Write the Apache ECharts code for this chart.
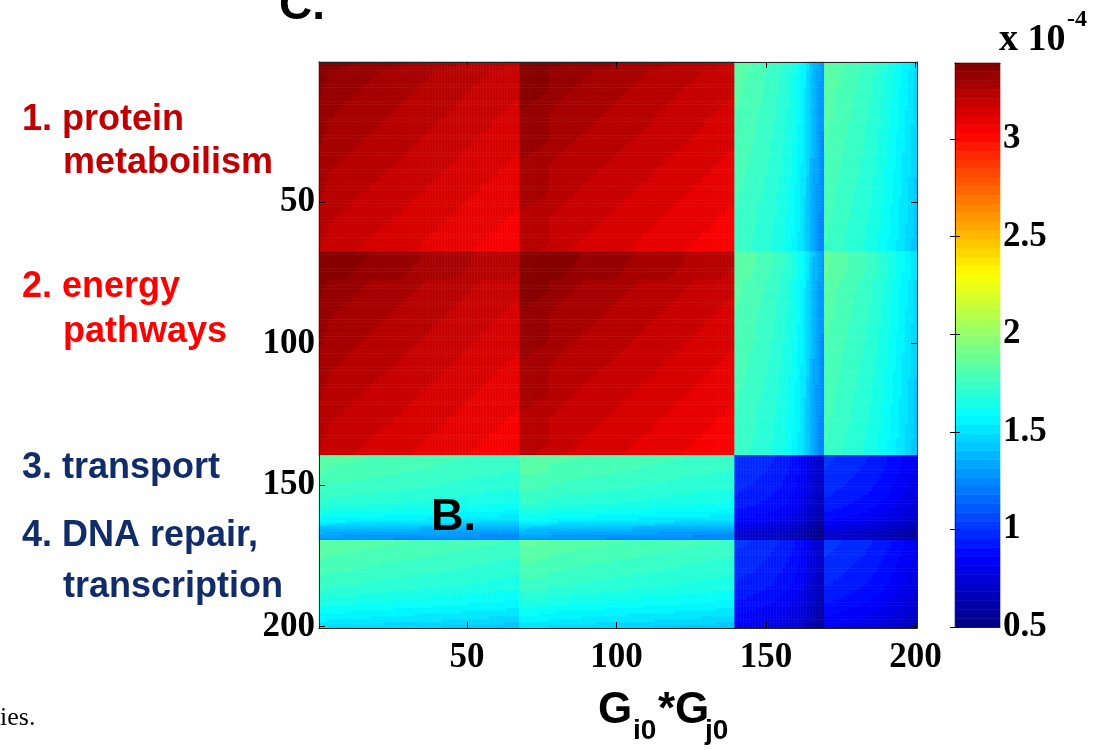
<!DOCTYPE html>
<html>
<head>
<meta charset="utf-8">
<title>G_i0*G_j0</title>
<script src="https://cdn.jsdelivr.net/npm/echarts@6/dist/echarts.min.js"></script>
<style>
  html, body { margin: 0; padding: 0; background: #fff; }
  #main { width: 1112px; height: 750px; }
</style>
</head>
<body>
<div id="main"></div>
<script>
'use strict';

/*
 * G_i0, one value per gene, grouped by function.
 * The plotted cell (i, j) is G_i0 * G_j0 (in units of 1e-4).
 */
const proteinG0 = [
    1.840, 1.837, 1.834,
    1.828, 1.827, 1.825, 1.824, 1.823, 1.821, 1.820, 1.819, 1.817, 1.816,
    1.815, 1.813, 1.812, 1.811, 1.809, 1.808, 1.807, 1.805, 1.804, 1.803,
    1.801, 1.800, 1.798, 1.797, 1.796, 1.794, 1.793, 1.792, 1.790, 1.789,
    1.788, 1.786, 1.785, 1.784, 1.782, 1.781, 1.780, 1.778, 1.777, 1.776,
    1.774, 1.773, 1.772, 1.770, 1.769, 1.767, 1.766, 1.765, 1.763, 1.762,
    1.761, 1.759, 1.758, 1.757, 1.755, 1.754, 1.753, 1.751, 1.750, 1.749,
    1.747, 1.746, 1.745, 1.743
];
const energyG0 = [
    1.848, 1.847, 1.846, 1.845, 1.844, 1.843, 1.842, 1.841, 1.840, 1.838,
    1.824, 1.823, 1.821, 1.820, 1.819, 1.817, 1.816, 1.815, 1.813, 1.812,
    1.811, 1.809, 1.808, 1.807, 1.805, 1.804, 1.802, 1.801, 1.800, 1.798,
    1.797, 1.796, 1.794, 1.793, 1.792, 1.790, 1.789, 1.788, 1.786, 1.785,
    1.784, 1.782, 1.781, 1.780, 1.778, 1.777, 1.775, 1.774, 1.773, 1.771,
    1.770, 1.769, 1.767, 1.766, 1.765, 1.763, 1.762, 1.761, 1.759, 1.758,
    1.757, 1.755, 1.754, 1.753, 1.751, 1.750, 1.748, 1.747, 1.746, 1.744,
    1.743, 1.742
];
const transportG0 = [
    1.000, 0.998, 0.995, 0.992, 0.989, 0.986, 0.982, 0.978, 0.974, 0.970,
    0.966, 0.962, 0.957, 0.952, 0.946, 0.940, 0.933, 0.925, 0.916, 0.905,
    0.892, 0.878, 0.862, 0.845, 0.815, 0.785, 0.760, 0.740, 0.720, 0.705
];
const dnaG0 = [
    1.010, 1.006, 1.002, 0.998, 0.994, 0.990, 0.986, 0.982, 0.978, 0.974,
    0.970, 0.966, 0.962, 0.958, 0.953, 0.948, 0.942, 0.936, 0.929, 0.922,
    0.914, 0.905, 0.897, 0.889, 0.880, 0.870, 0.860, 0.850, 0.840, 0.828,
    0.815
];

const axisTicks = [50, 100, 150, 200];
const colorbarMin = 0.5;
const colorbarMax = 3.39;
const colorbarStep = 0.5;
const colorLevels = 64;

const g0 = [].concat(proteinG0, energyG0, transportG0, dnaG0);
const genes = g0.map((_, i) => String(i + 1));

const cells = [];
g0.forEach((gi, i) => {
    g0.forEach((gj, j) => {
        cells.push([j, i, gi * gj]);
    });
});

// MATLAB-style jet colormap, quantised into colorLevels steps
const jet = (t) => {
    const c = (x) => Math.round(255 * Math.max(0, Math.min(1, x)));
    return 'rgb(' + c(1.5 - Math.abs(4 * t - 3)) + ',' + c(1.5 - Math.abs(4 * t - 2)) + ',' + c(1.5 - Math.abs(4 * t - 1)) + ')';
};

const levelSize = (colorbarMax - colorbarMin) / colorLevels;
const pieces = [];
const colorbarLevels = [];
for (let k = 0; k < colorLevels; k++) {
    const lo = colorbarMin + k * levelSize;
    const hi = lo + levelSize;
    const p = { color: jet((k + 0.5) / colorLevels) };
    if (k > 0) p.gte = lo;
    if (k < colorLevels - 1) p.lt = hi;
    pieces.push(p);
    colorbarLevels.push([lo, hi, (lo + hi) / 2]);
}

const isTick = (index, value) => axisTicks.indexOf(Number(value)) >= 0;
const frame = { show: true, lineStyle: { color: '#222', width: 1 } };
const innerTick = { show: true, inside: true, length: 5, lineStyle: { color: '#000' } };
const serifLabel = { fontFamily: 'Liberation Serif', fontWeight: 'bold', fontSize: 35, color: '#000' };
const sans = 'Liberation Sans';

const catAxis = (extra) => Object.assign({
    type: 'category',
    data: genes,
    gridIndex: 0,
    z: 10,
    axisLine: frame,
    axisTick: Object.assign({}, innerTick, { alignWithLabel: true, length: 6, interval: isTick }),
    axisLabel: { show: false },
    splitLine: { show: false }
}, extra);

const label = (text, x, y, size, color, font, weight) => ({
    type: 'text',
    x: x,
    y: y,
    z: 100,
    style: {
        text: text,
        fill: color || '#000',
        font: (weight || 'bold') + ' ' + size + 'px "' + (font || sans) + '"',
        textAlign: 'left',
        textVerticalAlign: 'middle'
    }
});

const chart = echarts.init(document.getElementById('main'), null, { renderer: 'canvas' });

chart.setOption({
    animation: false,
    backgroundColor: '#fff',
    grid: [
        { left: 319, top: 62, width: 598, height: 566, containLabel: false },
        { left: 955, top: 63, width: 45, height: 564, containLabel: false }
    ],
    xAxis: [
        catAxis({ position: 'bottom', axisLabel: Object.assign({ show: true, interval: isTick, margin: 12 }, serifLabel) }),
        catAxis({ position: 'top' }),
        { type: 'value', gridIndex: 1, min: 0, max: 1, position: 'bottom', z: 10, axisLine: frame, axisTick: { show: false }, axisLabel: { show: false }, splitLine: { show: false } },
        { type: 'value', gridIndex: 1, min: 0, max: 1, position: 'top', z: 10, axisLine: frame, axisTick: { show: false }, axisLabel: { show: false }, splitLine: { show: false } }
    ],
    yAxis: [
        catAxis({ position: 'left', inverse: true, axisLabel: Object.assign({ show: true, interval: isTick, margin: 4 }, serifLabel) }),
        catAxis({ position: 'right', inverse: true }),
        {
            type: 'value', gridIndex: 1, position: 'left', min: colorbarMin, max: colorbarMax, interval: colorbarStep, z: 10,
            axisLine: frame, axisTick: innerTick, axisLabel: { show: false }, splitLine: { show: false }
        },
        {
            type: 'value', gridIndex: 1, position: 'right', min: colorbarMin, max: colorbarMax, interval: colorbarStep, z: 10,
            axisLine: frame, axisTick: innerTick,
            axisLabel: Object.assign({ show: true, margin: 3, showMaxLabel: false, formatter: (v) => String(v) }, serifLabel),
            splitLine: { show: false }
        }
    ],
    visualMap: {
        type: 'piecewise',
        show: false,
        dimension: 2,
        seriesIndex: [0, 1],
        pieces: pieces
    },
    series: [
        {
            type: 'heatmap',
            xAxisIndex: 0,
            yAxisIndex: 0,
            data: cells,
            progressive: 0,
            emphasis: { disabled: true }
        },
        {
            type: 'custom',
            xAxisIndex: 2,
            yAxisIndex: 3,
            data: colorbarLevels,
            renderItem: (params, api) => {
                const p0 = api.coord([0, api.value(0)]);
                const p1 = api.coord([1, api.value(1)]);
                const color = api.visual('color');
                return {
                    type: 'rect',
                    shape: { x: p0[0], y: p1[1], width: p1[0] - p0[0], height: p0[1] - p1[1] },
                    style: { fill: color, stroke: color, lineWidth: 0.6 }
                };
            }
        }
    ],
    graphic: [
        label('C.', 279, 6, 46),
        label('x 10', 999, 40, 38, '#000', 'Liberation Serif'),
        label('-4', 1067, 20, 24, '#000', 'Liberation Serif'),
        label('1. protein', 22, 120, 36, '#c00000'),
        label('metaboilism', 63, 163, 36, '#c00000'),
        label('2. energy', 22, 287, 36, '#ff0000'),
        label('pathways', 63, 332, 36, '#ff0000'),
        label('3. transport', 22, 468, 36, '#102c69'),
        label('4. DNA repair,', 22, 536, 36, '#102c69'),
        label('transcription', 63, 587, 36, '#102c69'),
        label('B.', 431, 518, 45),
        label('ies.', 0, 718, 26, '#000', 'Liberation Serif', 'normal'),
        label('G', 598, 711, 44),
        label('i0', 633, 731, 28),
        label('*G', 658, 711, 44),
        label('j0', 705, 731, 28)
    ]
});
</script>
</body>
</html>
